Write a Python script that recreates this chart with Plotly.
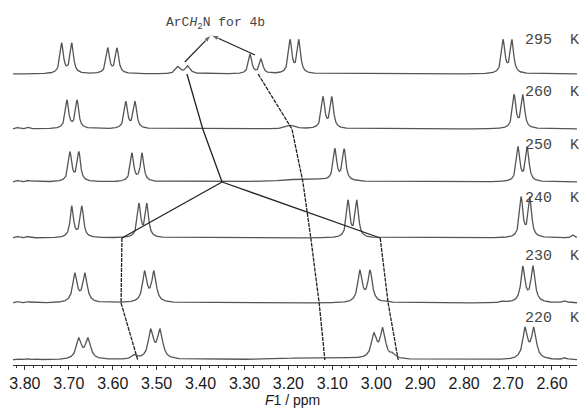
import numpy as np
import plotly.graph_objects as go

# ---------------- data ----------------
temps = ["295  K", "260  K", "250  K", "240  K", "230  K", "220  K"]

# peak centres (ppm), heights (px-like units) and half-widths (ppm) per spectrum
ppm_295 = [3.716, 3.693, 3.611, 3.590, 3.451, 3.429, 3.287, 3.262, 3.196, 3.176, 2.711, 2.691]
h_295   = [30, 30, 25, 25, 7, 7.5, 19.5, 14.5, 33, 33, 33, 33]
w_295   = [0.0045, 0.0045, 0.0045, 0.0045, 0.0065, 0.0065, 0.0045, 0.0045, 0.0045, 0.0045, 0.0045, 0.0045]

ppm_260 = [3.816, 3.793, 3.704, 3.681, 3.570, 3.549, 3.195, 3.121, 3.101, 2.686, 2.666]
h_260   = [1.5, 1.5, 28, 28, 26.5, 26.5, 3.5, 31, 31, 33, 33]
w_260   = [0.004, 0.004, 0.0045, 0.0045, 0.0045, 0.0045, 0.012, 0.0045, 0.0045, 0.0045, 0.0045]

ppm_250 = [3.816, 3.793, 3.697, 3.677, 3.556, 3.533, 3.160, 3.094, 3.073, 2.677, 2.656]
h_250   = [1.5, 1.5, 29, 29, 28, 28, 3.0, 31, 31, 34, 34]
w_250   = [0.004, 0.004, 0.0045, 0.0045, 0.0045, 0.0045, 0.06, 0.0045, 0.0045, 0.0045, 0.0045]

ppm_240 = [3.816, 3.793, 3.693, 3.670, 3.540, 3.522, 3.064, 3.044, 2.670, 2.650, 2.552]
h_240   = [1.5, 1.5, 31, 31, 33, 33, 36.5, 36.5, 39.5, 39.5, 3]
w_240   = [0.004, 0.004, 0.0045, 0.0045, 0.0045, 0.0045, 0.0045, 0.0045, 0.0045, 0.0045, 0.004]

ppm_230 = [3.816, 3.793, 3.686, 3.663, 3.527, 3.506, 3.037, 3.014, 2.975, 2.710, 2.666, 2.643, 2.570]
h_230   = [1.2, 1.2, 28, 28, 30, 30, 31, 31, 1.5, 1.5, 35, 35, 2]
w_230   = [0.004, 0.004, 0.006, 0.006, 0.006, 0.006, 0.006, 0.006, 0.006, 0.006, 0.0055, 0.0055, 0.005]

ppm_220 = [3.812, 3.792, 3.772, 3.677, 3.656, 3.550, 3.513, 3.492, 3.130, 3.005, 2.985, 2.962, 2.661, 2.641, 2.570]
h_220   = [1.2, 1.2, 1.0, 20, 20, 4, 28, 28, 2.5, 23, 29, 4, 30, 30, 2]
w_220   = [0.004, 0.004, 0.004, 0.007, 0.007, 0.007, 0.007, 0.007, 0.10, 0.007, 0.007, 0.006, 0.0065, 0.0065, 0.005]

spectra = [
    (ppm_295, h_295, w_295),
    (ppm_260, h_260, w_260),
    (ppm_250, h_250, w_250),
    (ppm_240, h_240, w_240),
    (ppm_230, h_230, w_230),
    (ppm_220, h_220, w_220),
]

# coalescence guide lines: ppm positions and the spectrum row they touch
guideA_ppm = [3.431, 3.395, 3.351];                      guideA_row = [0, 1, 2]
guideB_ppm = [3.351, 3.579];                             guideB_row = [2, 3]
guideC_ppm = [3.351, 2.991];                             guideC_row = [2, 3]
guideD_ppm = [3.269, 3.192, 3.167, 3.149, 3.130, 3.117]; guideD_row = [0, 1, 2, 3, 4, 5]
guideE_ppm = [2.991, 2.973, 2.950];                      guideE_row = [3, 4, 5]
guideF_ppm = [3.579, 3.581, 3.543];                      guideF_row = [3, 4, 5]

# label arrows: tail ppm list and common tip ppm
arrow_tail_ppm = [3.436, 3.276]
arrow_tip_ppm = 3.376

# ---------------- layout / style ----------------
offsets = [291, 236, 183, 127, 62, 5]        # baseline of each trace
label_dy = [34, 37, 37, 40, 47, 42]          # temperature label height above baseline
arrow_tail_dy = [12, 19]
arrow_tip_dy = 39
x_range = [3.827, 2.543]
line_col = "#555555"

grid = np.arange(x_range[1], x_range[0] + 1e-9, 0.0004)


def spectrum(centres, heights, widths):
    y = np.zeros_like(grid)
    for c, h, w in zip(centres, heights, widths):
        y += h / (1.0 + ((grid - c) / w) ** 2)
    return y


fig = go.Figure()

for (c, h, w), off in zip(spectra, offsets):
    fig.add_trace(go.Scatter(x=grid, y=spectrum(c, h, w) + off, mode="lines",
                             line=dict(color=line_col, width=1.3),
                             hoverinfo="skip", showlegend=False))

guides = [
    (guideA_ppm, guideA_row, "solid"),
    (guideB_ppm, guideB_row, "solid"),
    (guideC_ppm, guideC_row, "solid"),
    (guideD_ppm, guideD_row, "4px,1px"),
    (guideE_ppm, guideE_row, "4px,1px"),
    (guideF_ppm, guideF_row, "4px,1px"),
]
for px, rows, dash in guides:
    fig.add_trace(go.Scatter(x=px, y=[offsets[r] for r in rows], mode="lines",
                             line=dict(color="#222222", width=1.3, dash=dash),
                             hoverinfo="skip", showlegend=False))

# arrows from the two signals up to the label
for tp, tdy in zip(arrow_tail_ppm, arrow_tail_dy):
    fig.add_trace(go.Scatter(
        x=[tp, arrow_tip_ppm], y=[offsets[0] + tdy, offsets[0] + arrow_tip_dy],
        mode="lines+markers", line=dict(color="#222222", width=1.2),
        marker=dict(symbol=["circle", "arrow"], size=[0, 8], color="#222222",
                    angleref="previous"),
        hoverinfo="skip", showlegend=False))

annotations = []
for t, off, dy in zip(temps, offsets, label_dy):
    annotations.append(dict(text=t, xref="paper", x=1, xanchor="right", xshift=4,
                            yref="y", y=off + dy, yanchor="middle", showarrow=False,
                            font=dict(family="Liberation Mono", size=15, color="#444444")))

annotations.append(dict(text="ArC<i>H</i><sub>2</sub>N for 4b", x=3.365, y=offsets[0] + 51,
                        xref="x", yref="y", showarrow=False,
                        font=dict(family="Liberation Mono", size=13, color="#444444")))

annotations.append(dict(text="<i>F</i>1 / ppm", xref="paper", x=0.495, yref="paper", y=0,
                        yanchor="top", yshift=-25, showarrow=False,
                        font=dict(family="Liberation Sans", size=14, color="#1a1a1a")))

fig.update_layout(
    width=582, height=408,
    margin=dict(l=13, r=5, t=0, b=43),
    paper_bgcolor="white", plot_bgcolor="white",
    annotations=annotations,
    xaxis=dict(range=x_range, showline=True, linecolor="#333333", linewidth=1.2,
               ticks="outside", ticklen=4, tickwidth=1, tickcolor="#333333",
               tick0=2.6, dtick=0.1, tickformat=".2f",
               minor=dict(ticks="outside", ticklen=2, dtick=0.02, tickcolor="#333333"),
               showgrid=False, zeroline=False,
               tickfont=dict(family="Liberation Sans", size=16, color="#1a1a1a")),
    yaxis=dict(range=[0, 365], visible=False, showgrid=False, zeroline=False),
)

fig.write_html("out.html")
